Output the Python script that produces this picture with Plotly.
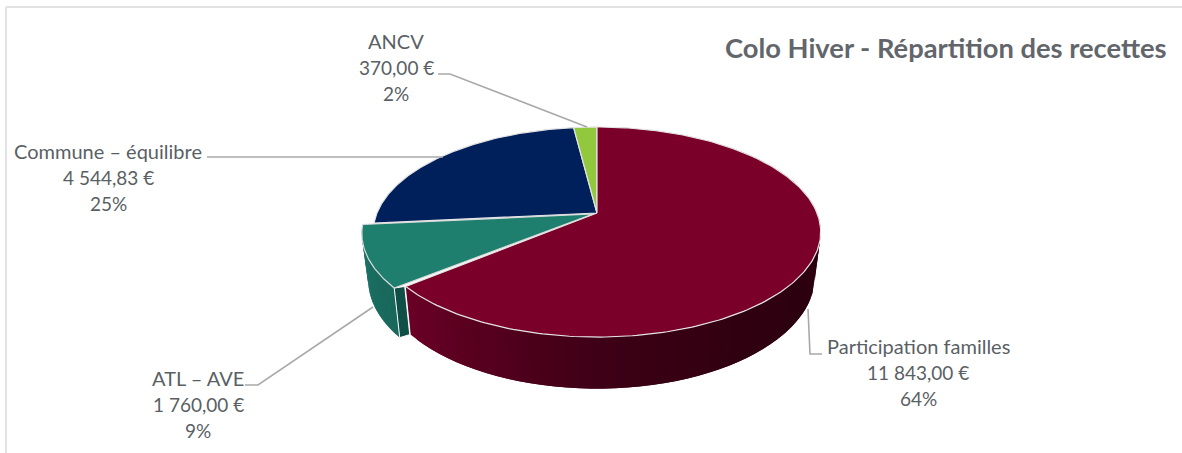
import numpy as np
import plotly.graph_objects as go

# ---- data ----
categories = ["Participation familles", "ATL – AVE", "Commune – équilibre", "ANCV"]
values = [11843.00, 1760.00, 4544.83, 370.00]
value_labels = ["11 843,00 €", "1 760,00 €", "4 544,83 €", "370,00 €"]
percent_labels = ["64%", "9%", "25%", "2%"]
title_text = "Colo Hiver - Répartition des recettes"

# ---- style ----
top_colors = ["#7a0029", "#1e7f6f", "#00205b", "#92c83e"]
text_color = "#5a5f65"
leader_color = "#a9a9a9"
FONT = "Lato"

# ---- perspective of the disc, in pixels of the plot area ----
APEX = (597.0, 213.0)
A, B, K = 220.0, 101.6, 0.181
SIDE_SCALE_X, SIDE_SCALE_Y, SIDE_DY = 0.974, 1.07, 43.0
EXPLODE_TOP = (-11.5, 1.5)
EXPLODE_BOTTOM = (-11.0, 3.0)
EXPLODE_APEX = (-4.0, 1.0)
EXPLODED = 1


def top(theta):
    t = np.radians(theta)
    u, v = np.sin(t), -np.cos(t)
    w = 1 - K * v
    return APEX[0] + A * u / w, APEX[1] + B * v / w


def bottom(theta):
    x, y = top(theta)
    return APEX[0] + SIDE_SCALE_X * (x - APEX[0]), APEX[1] + SIDE_DY + SIDE_SCALE_Y * (y - APEX[1])


total = sum(values)
edges = np.concatenate([[0.0], np.cumsum(values) / total * 360.0])
fig = go.Figure()


def poly(xs, ys, fill, line=None, width=0.6, name=""):
    fig.add_trace(go.Scatter(
        x=list(xs) + [xs[0]], y=list(ys) + [ys[0]], mode="lines", fill="toself",
        fillcolor=fill, line=dict(color=line or fill, width=width),
        hoverinfo="skip", showlegend=False, name=name))


def lerp_color(stops, f):
    pos = [s[0] for s in stops]
    rgb = [np.interp(f, pos, [s[1][i] for s in stops]) for i in range(3)]
    return "rgb(%d,%d,%d)" % tuple(int(c) for c in rgb)


def wall(a_from, a_to, stops, n, off_top=(0, 0), off_bot=(0, 0), name=""):
    """Wall made of overlapping strips, painted from a_from to a_to."""
    grid = np.linspace(a_from, a_to, n + 1)
    for i in range(n):
        # each strip reaches beyond the next one, which paints over the overlap
        span = np.linspace(grid[i], grid[min(i + 2, n)], 6)
        up = [top(a) for a in span]
        dn = [bottom(a) for a in span][::-1]
        xs = [p[0] + off_top[0] for p in up] + [p[0] + off_bot[0] for p in dn]
        ys = [p[1] + off_top[1] for p in up] + [p[1] + off_bot[1] for p in dn]
        poly(xs, ys, lerp_color(stops, i / n), width=0, name=name)


# side of the main group (front wall of the first slice)
red_stops = [(0.0, (106, 0, 38)), (0.13, (85, 0, 30)), (0.26, (62, 0, 22)), (0.45, (47, 0, 16)), (0.68, (44, 0, 16)), (1.0, (42, 0, 15))]
wall(edges[1], 40.0, red_stops, 70, name=categories[0])

# left end of the red wall
x_top, y_top = top(edges[1])
x_bot, y_bot = bottom(edges[1])

# exploded slice: side, then cut face, then top
a_start, a_end = edges[EXPLODED], edges[EXPLODED + 1]
teal_stops = [(0.0, (25, 104, 92)), (1.0, (29, 116, 103))]
wall(a_start, a_end, teal_stops, 24, EXPLODE_TOP, EXPLODE_BOTTOM, categories[EXPLODED])

tx, ty = top(a_start)
bx, by = bottom(a_start)
poly([tx + EXPLODE_TOP[0], x_top - 1, x_bot - 1, bx + EXPLODE_BOTTOM[0]],
     [ty + EXPLODE_TOP[1], y_top, y_bot, by + EXPLODE_BOTTOM[1]],
     "#0f4f46", line="#ffffff", width=1, name=categories[EXPLODED])

arc = np.linspace(a_start, a_end, 80)
pts = [top(a) for a in arc]
poly([APEX[0] + EXPLODE_APEX[0]] + [p[0] + EXPLODE_TOP[0] for p in pts],
     [APEX[1] + EXPLODE_APEX[1]] + [p[1] + EXPLODE_TOP[1] for p in pts],
     top_colors[EXPLODED], line="#d9d9d9", width=1.2, name=categories[EXPLODED])

# remaining top faces
for i in [2, 3, 0]:
    arc = np.linspace(edges[i], edges[i + 1], 240)
    pts = [top(a) for a in arc]
    poly([APEX[0]] + [p[0] for p in pts], [APEX[1]] + [p[1] for p in pts],
         top_colors[i], line="#e4e4e4", width=1.2, name=categories[i])

# ---- leader lines (layout) ----
leaders = [
    ([808, 810, 822], [309, 354, 354]),
    ([245, 258, 373], [385, 385, 307]),
    ([207, 443], [157, 157]),
    ([438, 450, 587], [74, 74, 127]),
]
for lx, ly in leaders:
    fig.add_trace(go.Scatter(x=lx, y=ly, mode="lines", line=dict(color=leader_color, width=1.6),
                             hoverinfo="skip", showlegend=False))

# ---- labels ----
label_pos = [(918, 347), (198, 379), (108, 152), (396, 42)]
LINE_H = 26
annotations = []
for (cx, cy), c, v, p in zip(label_pos, categories, value_labels, percent_labels):
    for j, t in enumerate([c, v, p]):
        annotations.append(dict(x=cx, y=cy - 1 + j * LINE_H, text=t, showarrow=False, xanchor="center",
                                yanchor="middle",
                                font=dict(family=FONT, size=20 if j == 0 else 19, color=text_color)))
annotations.append(dict(x=1169, y=47, text="<b>%s</b>" % title_text, showarrow=False, xanchor="right",
                        yanchor="middle", font=dict(family=FONT, size=27.3, color="#62666b")))

# ---- frame of the cropped chart ----
shapes = [
    dict(type="line", x0=6, x1=1182, y0=7, y1=7, line=dict(color="#e2e2e2", width=2)),
    dict(type="line", x0=6, x1=6, y0=7, y1=453, line=dict(color="#e2e2e2", width=2)),
]

fig.update_layout(
    width=1182, height=453, margin=dict(l=0, r=0, t=0, b=0),
    paper_bgcolor="white", plot_bgcolor="white", showlegend=False,
    xaxis=dict(range=[0, 1182], visible=False, fixedrange=True),
    yaxis=dict(range=[453, 0], visible=False, fixedrange=True),
    annotations=annotations, shapes=shapes,
)
fig.write_html("out.html", config=dict(displayModeBar=False),
               post_script="document.body.style.margin='0';document.body.style.overflow='hidden';")
